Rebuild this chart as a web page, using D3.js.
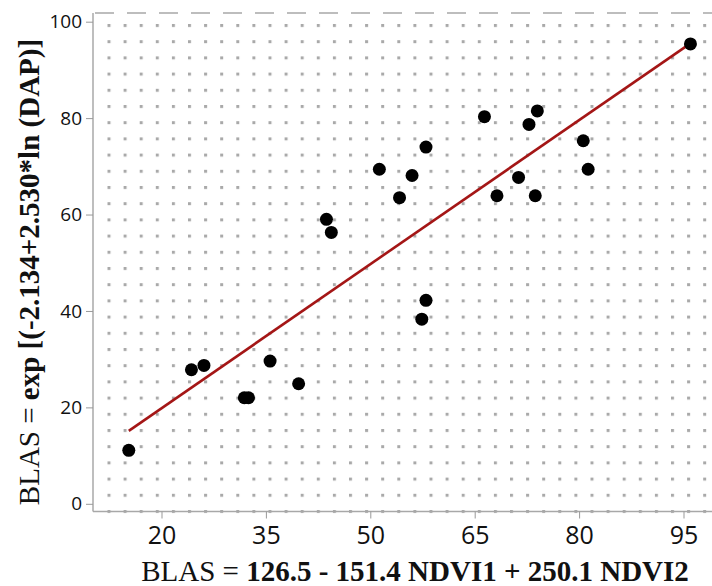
<!DOCTYPE html>
<html>
<head>
<meta charset="utf-8">
<script src="https://cdn.jsdelivr.net/npm/d3@7/dist/d3.min.js"></script>
<style>
html,body{margin:0;padding:0;background:#fff;}
svg{display:block;}
</style>
</head>
<body>
<svg id="chart" width="712" height="586"></svg>
<script>
// ---- data ----
const pointX = [15.3, 24.3, 26.1, 31.9, 32.5, 35.6, 39.7, 43.7, 44.4, 51.3, 54.2, 56.0, 58.0, 58.0, 57.4, 66.4, 68.2, 71.3, 72.8, 74.0, 73.7, 80.6, 81.3, 96.0];
const pointY = [11.1, 27.8, 28.7, 22.0, 22.0, 29.6, 24.9, 59.0, 56.3, 69.4, 63.5, 68.1, 74.0, 42.2, 38.3, 80.3, 63.9, 67.7, 78.7, 81.5, 63.9, 75.3, 69.4, 95.4];
const fitSlope = 0.996;
const fitIntercept = -0.1;
const xTicks = [20, 35, 50, 65, 80, 95];
const yTicks = [0, 20, 40, 60, 80, 100];
const xTitleRegular = "BLAS = ";
const xTitleBold = "126.5 - 151.4 NDVI1 + 250.1 NDVI2";
const yTitleRegular = "BLAS = ";
const yTitleBold = "exp [(-2.134+2.530*ln (DAP)]";

// ---- layout ----
const W = 712, H = 586;
const pLeft = 93, pTop = 13, pBottom = 511.5;
const x = d3.scaleLinear().domain([20, 95]).range([161.5, 683.5]);
const y = d3.scaleLinear().domain([0, 100]).range([503.8, 21.7]);

const svg = d3.select("#chart");

// dot grid pattern
const defs = svg.append("defs");
const pat = defs.append("pattern")
  .attr("id", "dots")
  .attr("patternUnits", "userSpaceOnUse")
  .attr("width", 16.1).attr("height", 16.2)
  .attr("x", 109 - 1.5).attr("y", pBottom - 1.5);
pat.append("rect").attr("x", 0).attr("y", 0).attr("width", 3).attr("height", 3).attr("fill", "#a9a9a9");

defs.append("clipPath").attr("id", "plotclip")
  .append("rect").attr("x", pLeft).attr("y", pTop).attr("width", W - pLeft).attr("height", pBottom - pTop);

svg.append("rect")
  .attr("x", pLeft + 8).attr("y", pTop + 4)
  .attr("width", W - pLeft - 8).attr("height", pBottom - pTop - 2)
  .attr("fill", "url(#dots)");

// borders
svg.append("line").attr("x1", pLeft).attr("x2", W).attr("y1", pTop).attr("y2", pTop)
  .attr("stroke", "#a8a8a8").attr("stroke-width", 1.5).attr("stroke-dasharray", "19,13")
  .attr("stroke-dashoffset", -2);
svg.append("line").attr("x1", pLeft).attr("x2", pLeft).attr("y1", pTop).attr("y2", pBottom)
  .attr("stroke", "#a8a8a8").attr("stroke-width", 1.5);
svg.append("line").attr("x1", pLeft).attr("x2", W).attr("y1", pBottom).attr("y2", pBottom)
  .attr("stroke", "#a8a8a8").attr("stroke-width", 1.5);

// axes
const yAxis = d3.axisLeft(y).tickValues(yTicks).tickSize(7).tickPadding(4).tickFormat(d3.format("d"));
const gy = svg.append("g").attr("transform", `translate(${pLeft},0)`).call(yAxis);
gy.select(".domain").remove();
gy.selectAll(".tick line").attr("stroke", "#999");
gy.selectAll(".tick text").attr("font-family", "'Open Sans', 'Noto Sans', sans-serif")
  .attr("font-size", 19).attr("fill", "#111");

const xAxis = d3.axisBottom(x).tickValues(xTicks).tickSize(7).tickPadding(8).tickFormat(d3.format("d"));
const gx = svg.append("g").attr("transform", `translate(0,${pBottom})`).call(xAxis);
gx.select(".domain").remove();
gx.selectAll(".tick line").attr("stroke", "#999");
gx.selectAll(".tick text").attr("font-family", "'Open Sans', 'Noto Sans', sans-serif")
  .attr("font-size", 25).attr("fill", "#111");

// plot content
const plot = svg.append("g").attr("clip-path", "url(#plotclip)");
const xMin = d3.min(pointX), xMax = d3.max(pointX);
plot.append("line")
  .attr("x1", x(xMin)).attr("y1", y(fitIntercept + fitSlope * xMin))
  .attr("x2", x(xMax)).attr("y2", y(fitIntercept + fitSlope * xMax))
  .attr("stroke", "#a41616").attr("stroke-width", 2.6);

plot.selectAll("circle").data(pointX.map((v, i) => [v, pointY[i]]))
  .enter().append("circle")
  .attr("cx", d => x(d[0])).attr("cy", d => y(d[1]))
  .attr("r", 6.5).attr("fill", "#000");

// titles
const xt = svg.append("text")
  .attr("x", 415).attr("y", 581)
  .attr("text-anchor", "middle")
  .attr("font-family", "'Liberation Serif', 'Times New Roman', serif")
  .attr("font-size", 29).attr("fill", "#111");
xt.append("tspan").text(xTitleRegular);
xt.append("tspan").attr("font-weight", "bold").text(xTitleBold);

const yt = svg.append("text")
  .attr("transform", "translate(39,272) rotate(-90)")
  .attr("text-anchor", "middle")
  .attr("font-family", "'Liberation Serif', 'Times New Roman', serif")
  .attr("font-size", 29).attr("fill", "#111");
yt.append("tspan").text(yTitleRegular);
yt.append("tspan").attr("font-weight", "bold").text(yTitleBold);
</script>
</body>
</html>
